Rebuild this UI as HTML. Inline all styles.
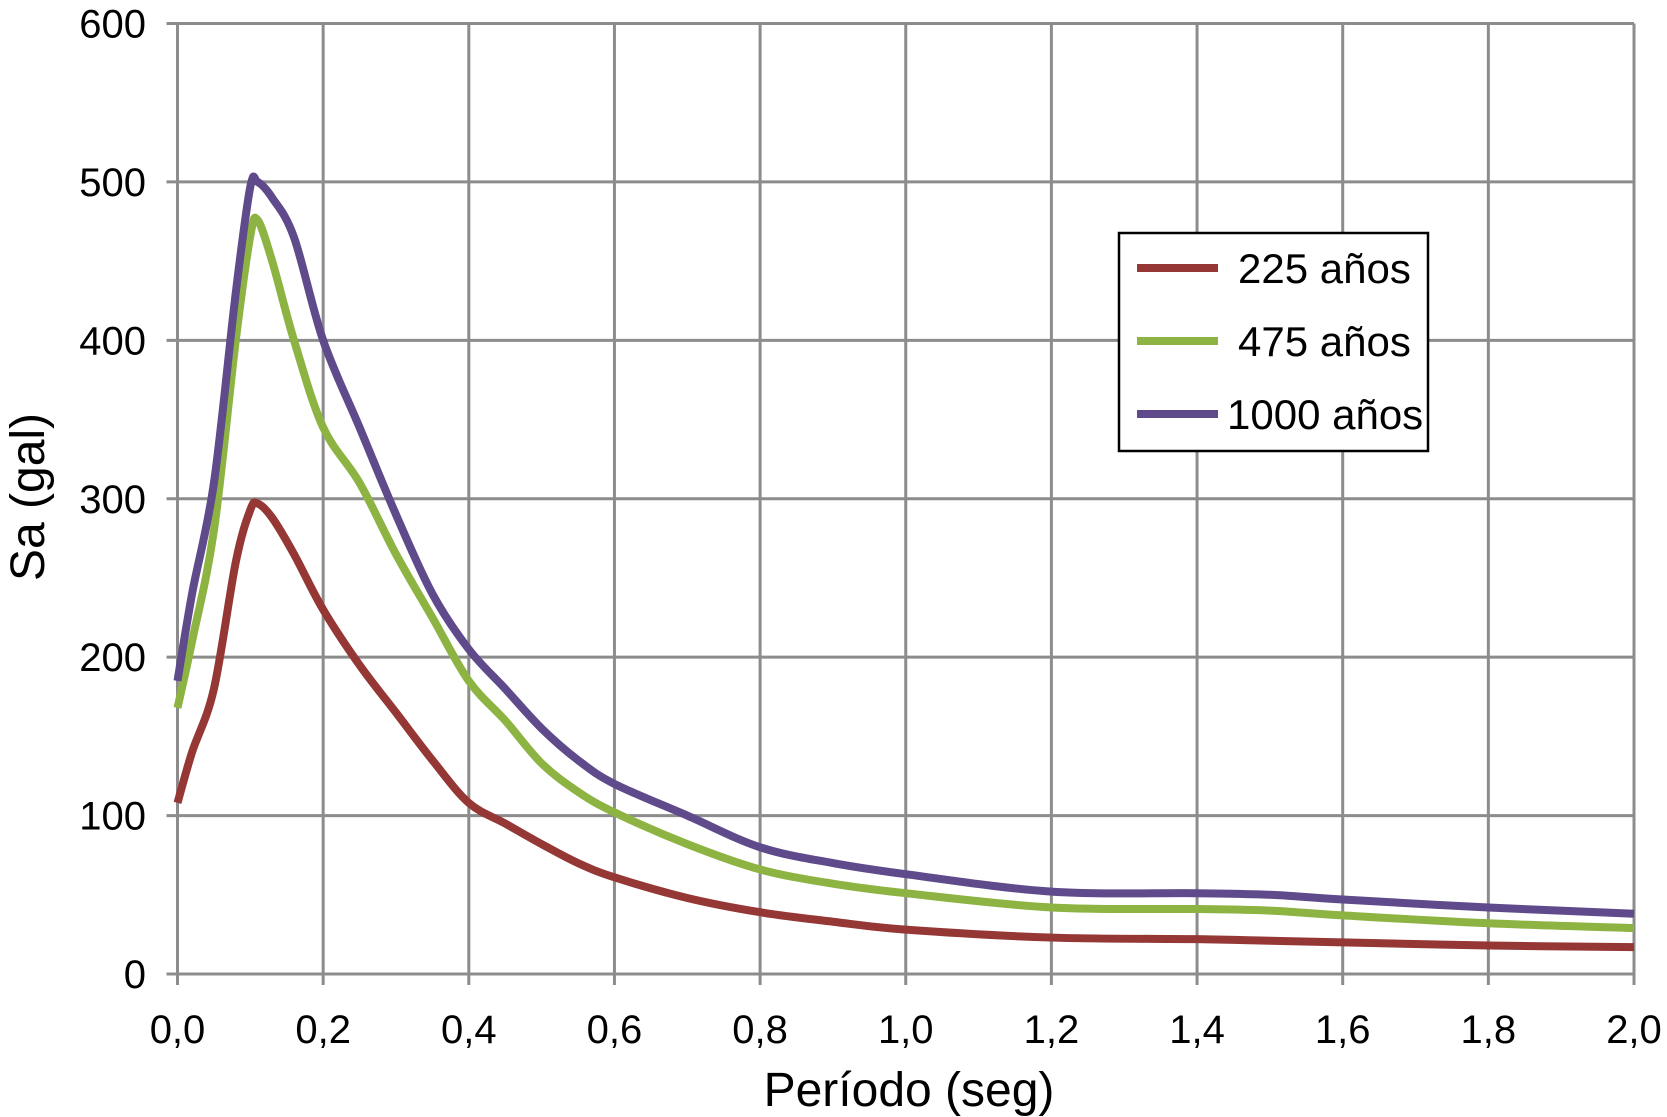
<!DOCTYPE html>
<html><head><meta charset="utf-8"><style>
html,body{margin:0;padding:0;background:#fff;}
svg{display:block;font-family:"Liberation Sans",Arial,sans-serif;}
</style></head><body>
<svg id="chart" width="1667" height="1117" viewBox="0 0 1667 1117" xmlns="http://www.w3.org/2000/svg">
<g id="grid"></g>
<g id="ticks"></g>
<g id="series"></g>
<text x="909" y="1106" font-size="48" text-anchor="middle" fill="#000">Período (seg)</text>
<text transform="translate(44,497) rotate(-90)" font-size="48" text-anchor="middle" fill="#000">Sa (gal)</text>
<g>
<rect x="1119" y="233" width="309" height="218" fill="#fff" stroke="#000" stroke-width="2.5"/>
<line x1="1137" y1="268" x2="1218" y2="268" stroke="#953735" stroke-width="8"/>
<text x="1238" y="283" font-size="42">225 años</text>
<line x1="1137" y1="341" x2="1218" y2="341" stroke="#8db443" stroke-width="8"/>
<text x="1238" y="356" font-size="42">475 años</text>
<line x1="1137" y1="414" x2="1218" y2="414" stroke="#5f4a8b" stroke-width="8"/>
<text x="1227" y="429" font-size="42">1000 años</text>
</g>
</svg>
<script>
const periods = [0,0.02,0.05,0.08,0.1,0.11,0.13,0.16,0.2,0.25,0.3,0.35,0.4,0.45,0.5,0.55,0.6,0.7,0.8,0.9,1.0,1.2,1.4,1.5,1.6,1.8,2.0];
const sa225 = [108,140,180,260,293,297,288,265,230,195,165,135,108,95,82,70,61,48,39,33,28,23,22,21,20,18,17];
const sa475 = [168,210,280,400,466,476,450,400,345,310,265,225,185,160,133,115,102,82,66,57,51,42,41,40,37,32,29];
const sa1000 = [185,240,310,430,497,500,490,465,400,345,290,240,205,180,155,135,120,100,80,70,63,52,51,50,47,42,38];
const xTicks = ["0,0","0,2","0,4","0,6","0,8","1,0","1,2","1,4","1,6","1,8","2,0"];
const yTicks = ["0","100","200","300","400","500","600"];

const NS="http://www.w3.org/2000/svg";
const X0=177.5,X1=1634,Y0=974,Y1=23.5;
const xs=v=>X0+(v/2)*(X1-X0);
const ys=v=>Y0-(v/600)*(Y0-Y1);
function mk(tag,attrs,parent){const e=document.createElementNS(NS,tag);for(const k in attrs)e.setAttribute(k,attrs[k]);parent.appendChild(e);return e;}
const grid=document.getElementById('grid'),ticks=document.getElementById('ticks'),series=document.getElementById('series');
xTicks.forEach((t,i)=>{const x=xs(i*0.2);
 const l=mk('line',{x1:x,y1:Y1,x2:x,y2:Y0+11,stroke:'#8c8c8c','stroke-width':3},grid);
 
 
 const tx=mk('text',{x:x,y:1043,'font-size':40,'text-anchor':'middle'},ticks);tx.textContent=t;
 
 
});
yTicks.forEach((t,i)=>{const y=ys(i*100);
 const l=mk('line',{x1:X0-11,y1:y,x2:X1,y2:y,stroke:'#8c8c8c','stroke-width':3},grid);
 
 
 const tx=mk('text',{x:146,y:y+14,'font-size':40,'text-anchor':'end'},ticks);tx.textContent=t;
 
 
});
function pathFor(vals){
 const p=periods.map((t,i)=>[xs(t),ys(vals[i])]);
 let d=`M${p[0][0]},${p[0][1]}`;
 for(let i=0;i<p.length-1;i++){
  const p0=p[i-1]||p[i],p1=p[i],p2=p[i+1],p3=p[i+2]||p2;
  const c1=[p1[0]+(p2[0]-p0[0])/6,p1[1]+(p2[1]-p0[1])/6];
  const c2=[p2[0]-(p3[0]-p1[0])/6,p2[1]-(p3[1]-p1[1])/6];
  d+=` C${c1[0]},${c1[1]} ${c2[0]},${c2[1]} ${p2[0]},${p2[1]}`;
 }
 return d;
}
[[sa225,'#953735','line-225-anos'],[sa475,'#8db443','line-475-anos'],[sa1000,'#5f4a8b','line-1000-anos']].forEach(([v,c,n])=>{
 const p=mk('path',{d:pathFor(v),fill:'none',stroke:c,'stroke-width':8,'stroke-linejoin':'round'},series);
 
 
});
</script>
</body></html>
